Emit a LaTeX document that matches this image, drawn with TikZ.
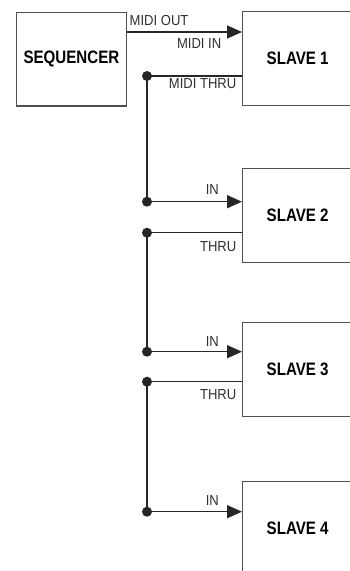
\documentclass[tikz,border=0pt]{standalone}
\usepackage{fontspec}
\setmainfont{Liberation Sans}
\newfontfamily\unitfont{Liberation Sans}[FakeStretch=0.84]
\newfontfamily\portfont{Liberation Sans}[FakeStretch=0.9]
\usetikzlibrary{arrows.meta}
\definecolor{frame}{HTML}{4D524A}
\definecolor{wire}{HTML}{262626}
\definecolor{ink}{HTML}{2E2E2E}
\tikzset{
  x=1pt, y=1pt,
  unit/.style={draw=frame, line width=1.3pt, fill=white, rectangle, inner sep=0pt,
    font=\unitfont\bfseries\fontsize{18}{19}\selectfont, text=black},
  slavebox/.style={unit, minimum width=110pt, minimum height=94pt, anchor=north west},
  sig/.style={draw=wire, line width=1.5pt},
  feed/.style={sig, -{Triangle[length=15pt,width=13pt]}},
  joint/.style={circle, fill=wire, inner sep=0pt, minimum size=10pt},
  port/.style={font=\portfont\fontsize{14.5}{15}\selectfont, text=ink, inner sep=0pt},
}
\begin{document}
\begin{tikzpicture}
\useasboundingbox (0,0) rectangle (350,-571);
\clip (0,0) rectangle (350,-571);

% units
\node[unit, minimum width=110.5pt, minimum height=93.8pt, anchor=north west]
  (seq) at (15.5,-11.5) {SEQUENCER};
\node[slavebox] (s1) at (242,-11) {SLAVE 1};
\node[slavebox] (s2) at (242,-168) {SLAVE 2};
\node[slavebox] (s3) at (242,-322) {SLAVE 3};
\node[slavebox] (s4) at (242,-481) {SLAVE 4};

% junction dots on the thru/in bus
\node[joint] (d1) at (147,-76) {};
\node[joint] (d2) at (147,-201.7) {};
\node[joint] (d3) at (147,-232.7) {};
\node[joint] (d4) at (147,-351.7) {};
\node[joint] (d5) at (147,-381.7) {};
\node[joint] (d6) at (147,-511.7) {};

% sequencer to slave 1
\draw[feed] (seq.east |- 0,-32) -- (s1.west |- 0,-32);

% thru outputs
\draw[sig] (d1.center) -- (s1.west |- d1);
\draw[sig] (d3.center) -- (s2.west |- d3);
\draw[sig] (d5.center) -- (s3.west |- d5);

% in inputs
\draw[feed] (d2.center) -- (s2.west |- d2);
\draw[feed] (d4.center) -- (s3.west |- d4);
\draw[feed] (d6.center) -- (s4.west |- d6);

% vertical runs
\draw[sig] (d1.center) -- (d2.center);
\draw[sig] (d3.center) -- (d4.center);
\draw[sig] (d5.center) -- (d6.center);

% port labels
\node[port, anchor=base west] (lout) at (129.5,-25) {MIDI OUT};
\node[port, anchor=base east] (lin) at (221.5,-48.5) {MIDI IN};
\node[port, anchor=base east] (lthru) at (236.5,-88.5) {MIDI THRU};
\node[port, anchor=base east] (in2) at (219,-194) {IN};
\node[port, anchor=base east] (th2) at (236.5,-251.5) {THRU};
\node[port, anchor=base east] (in3) at (219,-346.5) {IN};
\node[port, anchor=base east] (th3) at (236.5,-399) {THRU};
\node[port, anchor=base east] (in4) at (219,-505) {IN};
\end{tikzpicture}
\end{document}
